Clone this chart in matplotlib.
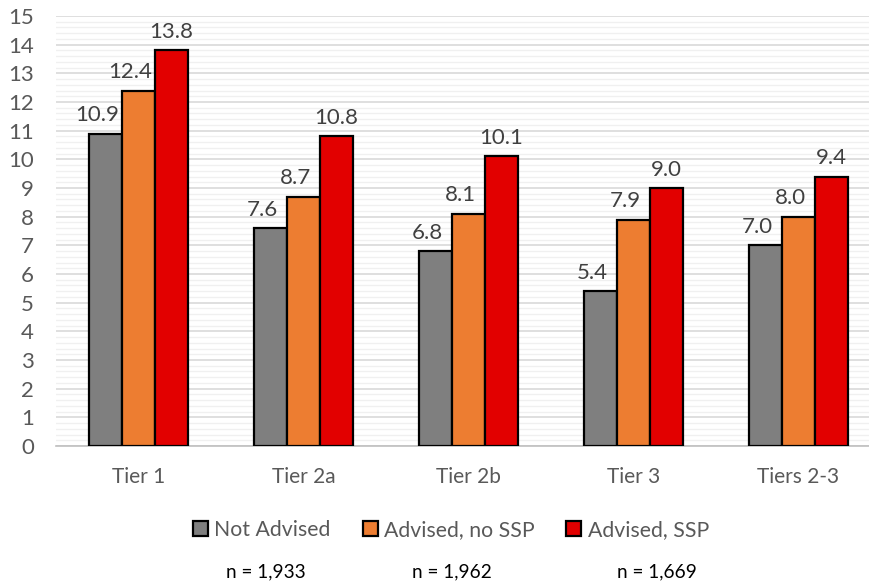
import matplotlib
matplotlib.use("Agg")
import matplotlib.pyplot as plt
import numpy as np
from matplotlib.patches import Patch
from matplotlib.ticker import MultipleLocator

plt.rcParams['font.family'] = ['Lato', 'DejaVu Sans']

categories = ["Tier 1", "Tier 2a", "Tier 2b", "Tier 3", "Tiers 2-3"]
series_names = ["Not Advised", "Advised, no SSP", "Advised, SSP"]
not_advised = [10.9, 7.6, 6.8, 5.4, 7.0]
advised_no_ssp = [12.4, 8.7, 8.1, 7.9, 8.0]
advised_ssp = [13.8, 10.8, 10.1, 9.0, 9.4]
sample_sizes = ["n = 1,933", "n = 1,962", "n = 1,669"]

colors = ["#7f7f7f", "#ed7d31", "#e20000"]
series = [not_advised, advised_no_ssp, advised_ssp]
# horizontal nudge (points) for value labels, so neighbouring labels don't collide
label_dx = [-6, -6, 0]

fig = plt.figure(figsize=(8.69, 5.84), dpi=100)
ax = fig.add_axes([56 / 869, 138 / 584, 825 / 869, 430 / 584])

x = np.arange(len(categories))
width = 0.2
for i, (vals, col) in enumerate(zip(series, colors)):
    pos = x + (i - 1) * width
    ax.bar(pos, vals, width=width, color=col, edgecolor="black",
           linewidth=1.6, zorder=3)
    for xp, v in zip(pos, vals):
        ax.annotate(f"{v:.1f}", (xp, v), xytext=(label_dx[i], 9),
                    textcoords="offset points", ha="center", va="baseline",
                    fontsize=16, color="#404040")

ax.set_xlim(-0.5, len(categories) - 0.5)
ax.set_ylim(0, 15)
ax.yaxis.set_major_locator(MultipleLocator(1))
ax.yaxis.set_minor_locator(MultipleLocator(0.2))
ax.grid(which="major", axis="y", color="#d9d9d9", linewidth=1.2, zorder=0)
ax.grid(which="minor", axis="y", color="#f0f0f0", linewidth=1.0, zorder=0)
ax.set_axisbelow(True)

for side in ["top", "right", "left"]:
    ax.spines[side].set_visible(False)
ax.spines["bottom"].set_color("#bfbfbf")
ax.spines["bottom"].set_linewidth(1.2)

ax.set_xticks(x)
ax.set_xticklabels(categories)
ax.tick_params(axis="x", length=0, pad=15, labelsize=15, labelcolor="#595959")
ax.tick_params(axis="y", which="both", length=0, pad=16, labelsize=16,
               labelcolor="#595959")

handles = [Patch(facecolor=c, edgecolor="black", linewidth=1.6) for c in colors]
fig.legend(handles, series_names, loc="center", bbox_to_anchor=(451 / 869, 54 / 584),
           ncol=3, frameon=False, fontsize=15.3, labelcolor="#595959",
           handlelength=0.7, handleheight=0.7, handletextpad=0.3,
           columnspacing=1.5)

for xpos, label in zip([266, 452, 657], sample_sizes):
    fig.text(xpos / 869, 12 / 584, label, ha="center", va="center",
             fontsize=13.7, color="black")

fig.savefig("out.png", dpi=100)
